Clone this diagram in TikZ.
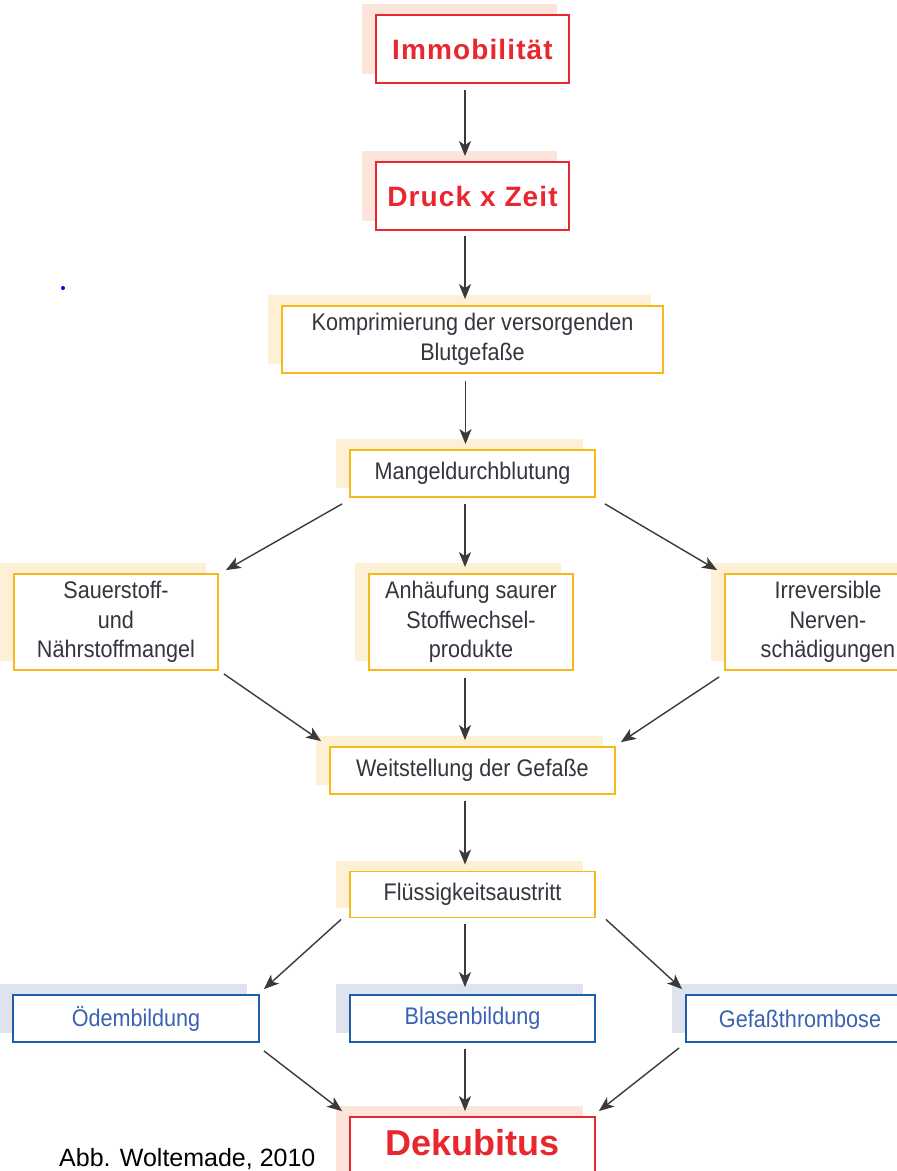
\documentclass[tikz,border=0pt]{standalone}
\usepackage{fontspec}
\setmainfont{Liberation Sans}
\newfontfamily\boxfont[FakeStretch=0.9]{Liberation Sans}
\newfontfamily\redfont[LetterSpace=4]{Liberation Sans}
\newfontfamily\capfont{Liberation Sans}
\usetikzlibrary{arrows.meta,backgrounds}
\definecolor{redline}{HTML}{E8282E}
\definecolor{redshade}{HTML}{FDE4DA}
\definecolor{yelline}{HTML}{F7B81A}
\definecolor{yelshade}{HTML}{FEF0D4}
\definecolor{blueline}{HTML}{1F5FAA}
\definecolor{blueshade}{HTML}{DFE3F0}
\definecolor{darktext}{HTML}{35343F}
\definecolor{bluetext}{HTML}{3A62B0}
\definecolor{arrowcol}{HTML}{3A3A3A}
\tikzset{
  basebox/.style={draw, fill=white, line width=1.8pt, inner sep=0pt, align=center},
  redbox/.style={basebox, draw=redline, text=redline, font=\redfont\bfseries\fontsize{28}{32}\selectfont},
  yelbox/.style={basebox, draw=yelline, text=darktext, font=\boxfont\fontsize{24}{29.5}\selectfont},
  bluebox/.style={basebox, draw=blueline, text=bluetext, font=\boxfont\fontsize{24}{29.5}\selectfont},
  arr/.style={draw=arrowcol, line width=1.4pt, -{Stealth[length=15pt,width=12pt,inset=4pt]}},
}
\newcommand{\shadowof}[2]{%
  \fill[#2] ([shift={(-13,-10)}]#1.south west) rectangle ([shift={(-13,-10)}]#1.north east);}
\begin{document}
\begin{tikzpicture}[x=1pt,y=-1pt]
\clip (0,0) rectangle (897,1171);
% boxes
\node[redbox, minimum width=193, minimum height=68] (imm) at (472.5,49) {Immobilität};
\node[redbox, minimum width=193, minimum height=68] (druck) at (472.5,196) {Druck x Zeit};
\node[yelbox, minimum width=381, minimum height=67] (kompr) at (472.5,339.5) {Komprimierung der versorgenden\\Blutgefaße};
\node[yelbox, minimum width=245, minimum height=47] (mangel) at (472.5,473.5) {Mangeldurchblutung};
\node[yelbox, minimum width=204, minimum height=96] (sauer) at (116,622) {Sauerstoff-\\und\\Nährstoffmangel};
\node[yelbox, minimum width=204, minimum height=96] (anh) at (471,622) {Anhäufung saurer\\Stoffwechsel-\\produkte};
\node[yelbox, minimum width=206, minimum height=96] (irr) at (828,622) {Irreversible\\Nerven-\\schädigungen};
\node[yelbox, minimum width=285, minimum height=47] (weit) at (472.5,770.5) {Weitstellung der Gefaße};
\node[yelbox, minimum width=245, minimum height=46] (flues) at (472.5,894.5) {Flüssigkeitsaustritt};
\node[bluebox, minimum width=246, minimum height=47] (oed) at (136,1018.5) {Ödembildung};
\node[bluebox, minimum width=245, minimum height=47] (blasen) at (472.5,1018.5) {Blasenbildung};
\node[bluebox, minimum width=228, minimum height=47] (gef) at (800,1018.5) {Gefaßthrombose};
\node[redbox, minimum width=245, minimum height=68, font=\capfont\bfseries\fontsize{36}{40}\selectfont] (dek) at (472.5,1151) {\raisebox{8pt}[\height][\depth]{Dekubitus}};
% shadows
\begin{scope}[on background layer]
  \shadowof{imm}{redshade}
  \shadowof{druck}{redshade}
  \shadowof{dek}{redshade}
  \shadowof{kompr}{yelshade}
  \shadowof{mangel}{yelshade}
  \shadowof{sauer}{yelshade}
  \shadowof{anh}{yelshade}
  \shadowof{irr}{yelshade}
  \shadowof{weit}{yelshade}
  \shadowof{flues}{yelshade}
  \shadowof{oed}{blueshade}
  \shadowof{blasen}{blueshade}
  \shadowof{gef}{blueshade}
\end{scope}
% caption and dot
\node[anchor=base west, inner sep=0pt, font=\capfont\fontsize{25}{29}\selectfont, text=black] (cap) at (59,1166) {Abb. Woltemade, 2010};
\fill[blue] (63,288) circle (2);
% vertical arrows
\draw[arr] ([shift={(-7.5,6)}]imm.south) -- ([shift={(-7.5,-5)}]druck.north);
\draw[arr] ([shift={(-7.5,5)}]druck.south) -- ([shift={(-7.5,-6)}]kompr.north);
\draw[arr] ([shift={(-7,7)}]kompr.south) -- ([shift={(-7,-5)}]mangel.north);
\draw[arr] ([shift={(-7.5,6)}]mangel.south) -- ([shift={(-6,-6)}]anh.north);
\draw[arr] ([shift={(-6,7)}]anh.south) -- ([shift={(-7.5,-6)}]weit.north);
\draw[arr] ([shift={(-7.5,6)}]weit.south) -- ([shift={(-7.5,-6)}]flues.north);
\draw[arr] ([shift={(-7.5,6)}]flues.south) -- ([shift={(-7.5,-7)}]blasen.north);
\draw[arr] ([shift={(-7.5,6)}]blasen.south) -- ([shift={(-7.5,-5)}]dek.north);
% diagonal arrows
\draw[arr] ([shift={(-7,6)}]mangel.south west) -- ([shift={(7,-3)}]sauer.north east);
\draw[arr] ([shift={(9,6)}]mangel.south east) -- ([shift={(-7,-3)}]irr.north west);
\draw[arr] ([shift={(5,3)}]sauer.south east) -- ([shift={(-8,-5)}]weit.north west);
\draw[arr] ([shift={(-5,6)}]irr.south west) -- ([shift={(5,-4)}]weit.north east);
\draw[arr] ([shift={(-8,1)}]flues.south west) -- ([shift={(4,-5)}]oed.north east);
\draw[arr] ([shift={(10,1)}]flues.south east) -- ([shift={(-3,-5)}]gef.north west);
\draw[arr] ([shift={(4,8)}]oed.south east) -- ([shift={(-7,-5)}]dek.north west);
\draw[arr] ([shift={(-6,5)}]gef.south west) -- ([shift={(3,-5)}]dek.north east);
\end{tikzpicture}
\end{document}
